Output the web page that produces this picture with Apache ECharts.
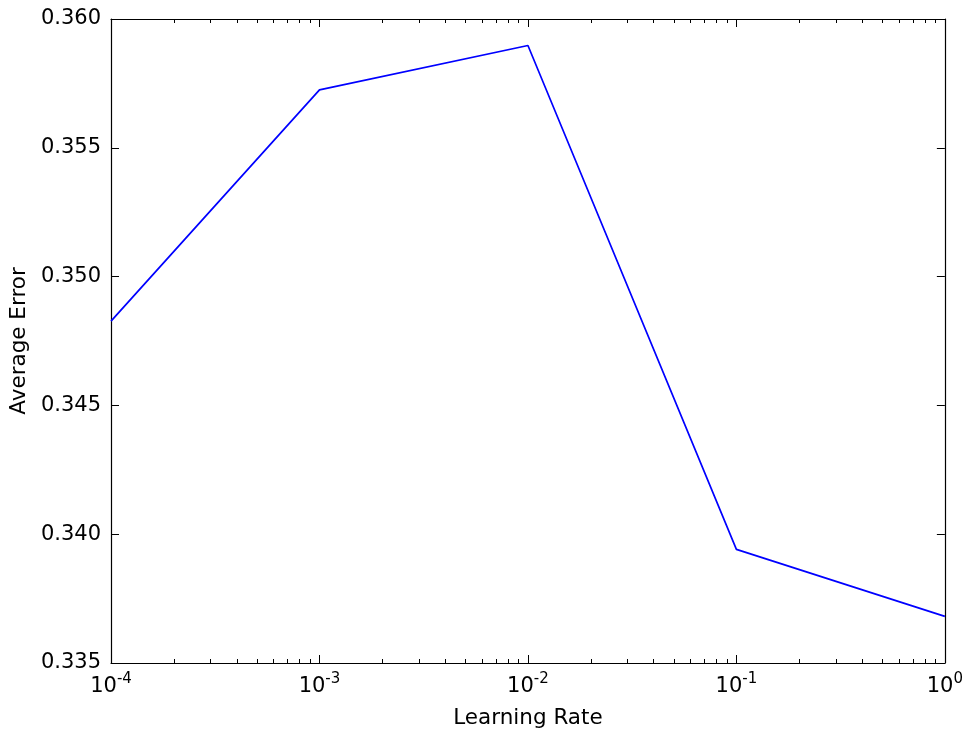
<!DOCTYPE html>
<html><head><meta charset="utf-8">
<script src="https://cdn.jsdelivr.net/npm/echarts@6/dist/echarts.min.js"></script>
<style>html,body{margin:0;padding:0;background:#fff}#c{width:966px;height:734px}</style>
</head><body><div id="c"></div>
<script>
const learningRates = [1e-4, 1e-3, 1e-2, 1e-1, 1];
const averageError = [0.34827, 0.35725, 0.35897, 0.33941, 0.33681];
const yTicks = [0.335, 0.340, 0.345, 0.350, 0.355, 0.360];
const decades = [1e-4, 1e-3, 1e-2, 1e-1];
const minorTicks = [];
decades.forEach(d => { for (let k = 2; k <= 9; k++) minorTicks.push([k * d]); });

const FONT = 'DejaVu Sans';
const fmtX = v => {
  const e = Math.round(Math.log10(v));
  return '{b|10}{s|' + e + '}';
};
const richX = {
  b: {fontFamily: FONT, fontSize: 21, color: '#000', lineHeight: 25, verticalAlign: 'bottom'},
  s: {fontFamily: FONT, fontSize: 15, color: '#000', lineHeight: 25, verticalAlign: 'top'}
};
const axisLineStyle = {color: '#000', width: 1.2};
const tickStyle = {color: '#000', width: 1};

const chart = echarts.init(document.getElementById('c'), null, {renderer: 'canvas'});
chart.setOption({
  backgroundColor: '#fff',
  animation: false,
  grid: {left: 111, right: 21, top: 19, bottom: 69, containLabel: false},
  xAxis: [{
    type: 'log', logBase: 10, min: 1e-4, max: 1, interval: 1,
    position: 'bottom',
    name: 'Learning Rate', nameLocation: 'middle', nameGap: 44,
    nameTextStyle: {fontFamily: FONT, fontSize: 21.5, color: '#000'},
    axisLine: {show: true, lineStyle: axisLineStyle},
    axisTick: {show: true, inside: true, length: 8, lineStyle: tickStyle},
    axisLabel: {formatter: fmtX, rich: richX, margin: 9, showMinLabel: true, showMaxLabel: true},
    splitLine: {show: false}
  }, {
    type: 'log', logBase: 10, min: 1e-4, max: 1, interval: 1,
    position: 'top',
    axisLine: {show: true, lineStyle: axisLineStyle},
    axisTick: {show: true, inside: true, length: 8, lineStyle: tickStyle},
    axisLabel: {show: false},
    splitLine: {show: false}
  }],
  yAxis: [{
    type: 'value', min: yTicks[0], max: yTicks[yTicks.length - 1], interval: 0.005,
    position: 'left',
    name: 'Average Error', nameLocation: 'middle', nameGap: 81,
    nameTextStyle: {fontFamily: FONT, fontSize: 21.5, color: '#000'},
    axisLine: {show: true, lineStyle: axisLineStyle},
    axisTick: {show: true, inside: true, length: 8, lineStyle: tickStyle},
    axisLabel: {formatter: v => v.toFixed(3), fontFamily: FONT, fontSize: 21, color: '#000', margin: 10},
    splitLine: {show: false}
  }, {
    type: 'value', min: yTicks[0], max: yTicks[yTicks.length - 1], interval: 0.005,
    position: 'right',
    axisLine: {show: true, lineStyle: axisLineStyle},
    axisTick: {show: true, inside: true, length: 8, lineStyle: tickStyle},
    axisLabel: {show: false},
    splitLine: {show: false}
  }],
  series: [{
    type: 'line',
    data: learningRates.map((x, i) => [x, averageError[i]]),
    showSymbol: false,
    lineStyle: {color: '#0000ff', width: 1.7},
    itemStyle: {color: '#0000ff'},
    z: 5
  }, {
    type: 'custom',
    data: minorTicks,
    clip: false,
    silent: true,
    renderItem: function (params, api) {
      const x = api.value(0);
      const b = api.coord([x, yTicks[0]]);
      const t = api.coord([x, yTicks[yTicks.length - 1]]);
      const st = {stroke: '#000', lineWidth: 1};
      return {type: 'group', children: [
        {type: 'line', shape: {x1: Math.round(b[0]) + 0.5, y1: b[1], x2: Math.round(b[0]) + 0.5, y2: b[1] - 4}, style: st},
        {type: 'line', shape: {x1: Math.round(t[0]) + 0.5, y1: t[1], x2: Math.round(t[0]) + 0.5, y2: t[1] + 4}, style: st}
      ]};
    }
  }]
});
</script></body></html>
